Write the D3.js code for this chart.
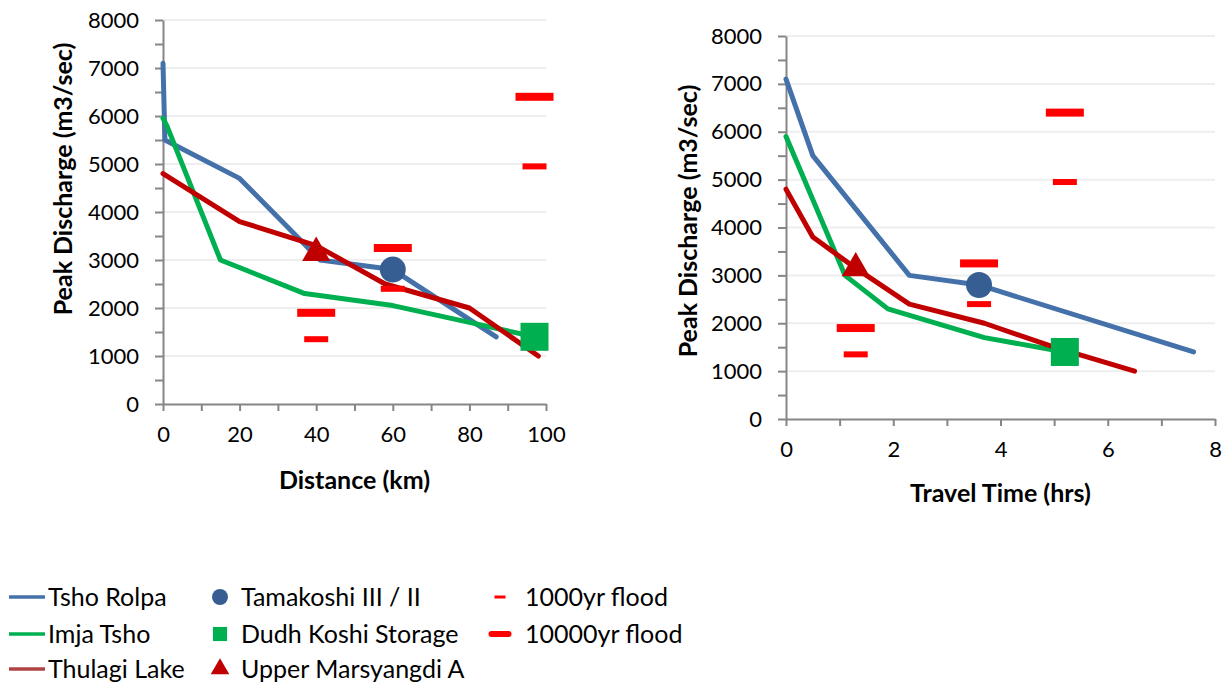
<!DOCTYPE html>
<html>
<head>
<meta charset="utf-8">
<script src="https://d3js.org/d3.v7.min.js"></script>
<style>
  body { margin: 0; background: #fff; }
  text { font-family: Lato, "Liberation Sans", sans-serif; fill: #000; }
</style>
</head>
<body>
<div id="chart"></div>
<script>

// ---- data ----
// distance chart (km)
var tshoRolpaDist = [0, 0.5, 20, 41, 60, 87];
var tshoRolpaDistQ = [7100, 5500, 4700, 3000, 2800, 1400];
var imjaDist = [0, 1, 15, 37, 60, 80, 97];
var imjaDistQ = [5950, 5800, 3000, 2300, 2050, 1700, 1400];
var thulagiDist = [0, 20, 40, 58, 80, 98];
var thulagiDistQ = [4800, 3800, 3300, 2500, 2000, 1000];

// travel time chart (hrs)
var tshoRolpaTime = [0, 0.5, 2.3, 3.6, 7.6];
var tshoRolpaTimeQ = [7100, 5500, 3000, 2800, 1400];
var imjaTime = [0, 1.1, 1.9, 3.7, 5.2];
var imjaTimeQ = [5900, 3000, 2300, 1700, 1400];
var thulagiTime = [0, 0.5, 1.3, 2.3, 3.7, 5.0, 6.5];
var thulagiTimeQ = [4800, 3800, 3150, 2400, 2000, 1500, 1000];

// hydropower sites
var plantNames = ["Tamakoshi III / II", "Dudh Koshi Storage", "Upper Marsyangdi A"];
var plantDist = [60, 97, 40];
var plantTime = [3.6, 5.2, 1.3];
var plantQ = [2800, 1400, 3150];
var flood1000 = [2400, 4950, 1350];
var flood10000 = [3250, 6400, 1900];

var lakeNames = ["Tsho Rolpa", "Imja Tsho", "Thulagi Lake"];
var floodNames = ["1000yr flood", "10000yr flood"];

var yTicks = d3.range(0, 8001, 500);

// ---- style ----
var blue = "#4471a9", green = "#00b050", red = "#c00000";
var circleCol = "#375e92", floodCol = "#ff0000";
var lakeColors = [blue, green, red];
var plantColors = [circleCol, green, red];

var svg = d3.select("#chart").append("svg")
  .attr("width", 1227)
  .attr("height", 682);

function drawPanel(opt) {
  var x = d3.scaleLinear().domain(opt.xDomain).range(opt.xRange);
  var y = d3.scaleLinear().domain([0, 8000]).range(opt.yRange);
  var g = svg.append("g");

  // gridlines
  g.append("g").selectAll("line")
    .data(d3.range(1000, 8001, 1000))
    .enter().append("line")
      .attr("x1", x(opt.xDomain[0])).attr("x2", x(opt.xDomain[1]))
      .attr("y1", function(d) { return y(d); })
      .attr("y2", function(d) { return y(d); })
      .attr("stroke", "#eeeeee").attr("stroke-width", 2);

  // axes
  var yAxis = g.append("g")
    .attr("transform", "translate(" + x(0) + ",0)")
    .call(d3.axisLeft(y).tickValues(yTicks).tickSize(8).tickSizeOuter(0).tickPadding(16)
      .tickFormat(function(d) { return d % 1000 == 0 ? d : ""; }));
  var xAxis = g.append("g")
    .attr("transform", "translate(0," + y(0) + ")")
    .call(d3.axisBottom(x).tickValues(opt.xTicks).tickSize(7).tickSizeOuter(0).tickPadding(15)
      .tickFormat(function(d, i) { return i % 2 == 0 ? d : ""; }));
  [yAxis, xAxis].forEach(function(a) {
    a.selectAll("path, line").attr("stroke", "#868686").attr("stroke-width", 2);
    a.selectAll("text").style("font-size", "22px").attr("fill", "#000");
  });

  // lake lines
  var line = d3.line()
    .x(function(d) { return x(d[0]); })
    .y(function(d) { return y(d[1]); });
  opt.lakes.forEach(function(s, i) {
    var pts = d3.zip(s[0], s[1]);
    g.append("path")
      .datum(pts)
      .attr("d", line)
      .attr("fill", "none")
      .attr("stroke", lakeColors[i])
      .attr("stroke-width", 5)
      .attr("stroke-linejoin", "round")
      .attr("stroke-linecap", "round");
  });

  // flood markers
  opt.px.forEach(function(px, i) {
    g.append("rect")
      .attr("x", x(px) - 19).attr("y", y(flood10000[i]) - 4)
      .attr("width", 38).attr("height", 8)
      .attr("fill", floodCol);
    g.append("rect")
      .attr("x", x(px) - 12).attr("y", y(flood1000[i]) - 3)
      .attr("width", 24).attr("height", 6)
      .attr("fill", floodCol);
  });

  // site markers
  var cx = x(opt.px[0]), cy = y(plantQ[0]);
  g.append("circle").attr("cx", cx).attr("cy", cy).attr("r", 13).attr("fill", circleCol);
  var sx = x(opt.px[1]), sy = y(plantQ[1]);
  g.append("rect").attr("x", sx - 14).attr("y", sy - 14).attr("width", 28).attr("height", 28).attr("fill", green);
  var tx = x(opt.px[2]), ty = y(plantQ[2]);
  g.append("path")
    .attr("d", d3.symbol().type(d3.symbolTriangle).size(340))
    .attr("transform", "translate(" + tx + "," + ty + ")")
    .attr("fill", red);

  // titles
  g.append("text")
    .attr("x", (opt.xRange[0] + opt.xRange[1]) / 2)
    .attr("y", opt.xTitleY)
    .attr("text-anchor", "middle")
    .style("font-size", "25px").style("font-weight", "bold")
    .text(opt.xTitle);
  g.append("text")
    .attr("transform", "translate(" + opt.yTitlePos[0] + "," + opt.yTitlePos[1] + ") rotate(-90)")
    .attr("text-anchor", "middle")
    .attr("dy", "0.35em")
    .style("font-size", "25px").style("font-weight", "bold")
    .text("Peak Discharge (m3/sec)");
}

drawPanel({
  xDomain: [0, 100], xRange: [163, 546], yRange: [404, 20],
  xTicks: d3.range(0, 101, 10),
  lakes: [[tshoRolpaDist, tshoRolpaDistQ], [imjaDist, imjaDistQ], [thulagiDist, thulagiDistQ]],
  px: plantDist,
  xTitle: "Distance (km)", xTitleY: 489,
  yTitlePos: [63, 179]
});

drawPanel({
  xDomain: [0, 8], xRange: [786, 1215], yRange: [419, 36],
  xTicks: d3.range(0, 9, 1),
  lakes: [[tshoRolpaTime, tshoRolpaTimeQ], [imjaTime, imjaTimeQ], [thulagiTime, thulagiTimeQ]],
  px: plantTime,
  xTitle: "Travel Time (hrs)", xTitleY: 502,
  yTitlePos: [688, 221]
});

// ---- legend ----
var rowY = [597, 634, 669];
var leg = svg.append("g").style("font-size", "25px");

lakeNames.forEach(function(n, i) {
  leg.append("line")
    .attr("x1", 9).attr("x2", 45).attr("y1", rowY[i]).attr("y2", rowY[i])
    .attr("stroke", i == 2 ? "#b04444" : lakeColors[i]).attr("stroke-width", 3.5);
  leg.append("text").attr("x", 48).attr("y", rowY[i]).attr("dy", "0.35em").text(n);
});

plantNames.forEach(function(n, i) {
  var sym = [d3.symbolCircle, d3.symbolSquare, d3.symbolTriangle][i];
  var size = [200, 200, 150][i];
  leg.append("path")
    .attr("d", d3.symbol().type(sym).size(size))
    .attr("transform", "translate(220," + rowY[i] + ")")
    .attr("fill", plantColors[i]);
  leg.append("text").attr("x", 241).attr("y", rowY[i]).attr("dy", "0.35em").text(n);
});

floodNames.forEach(function(n, i) {
  var w = i == 0 ? 11 : 23, h = i == 0 ? 3 : 6;
  leg.append("rect")
    .attr("x", 500 - w / 2).attr("y", rowY[i] - h / 2)
    .attr("width", w).attr("height", h).attr("rx", i == 0 ? 0 : 3)
    .attr("fill", floodCol);
  leg.append("text").attr("x", 525).attr("y", rowY[i]).attr("dy", "0.35em").text(n);
});

</script>
</body>
</html>
